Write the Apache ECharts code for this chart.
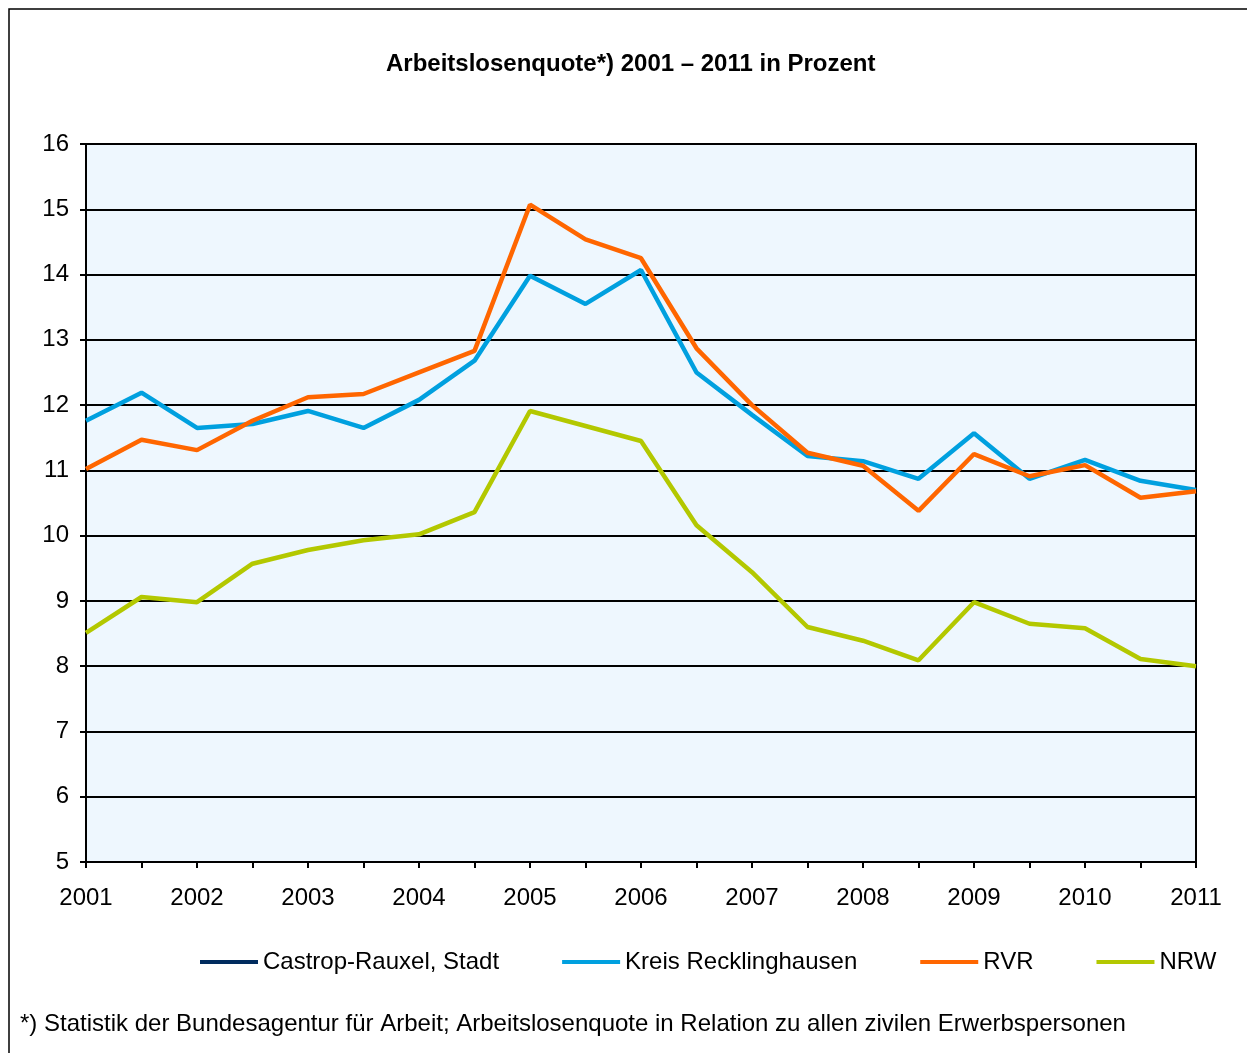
<!DOCTYPE html>
<html>
<head>
<meta charset="utf-8">
<script src="https://cdn.jsdelivr.net/npm/echarts@6/dist/echarts.min.js"></script>
<style>
html,body{margin:0;padding:0;background:#fff;}
#c{width:1247px;height:1053px;}
</style>
</head>
<body>
<div id="c"></div>
<script>
const periods = [2001,2001.5,2002,2002.5,2003,2003.5,2004,2004.5,2005,2005.5,2006,2006.5,2007,2007.5,2008,2008.5,2009,2009.5,2010,2010.5,2011];
const castropRauxel = [];
const kreisRecklinghausen = [11.76,12.19,11.65,11.71,11.91,11.65,12.08,12.68,13.98,13.55,14.07,12.50,11.85,11.22,11.14,10.87,11.57,10.87,11.16,10.84,10.70];
const rvr = [11.02,11.47,11.31,11.76,12.12,12.17,12.50,12.83,15.07,14.54,14.25,12.87,12.00,11.27,11.07,10.38,11.25,10.91,11.08,10.58,10.68];
const nrw = [8.51,9.06,8.98,9.57,9.78,9.93,10.02,10.36,11.91,11.68,11.45,10.16,9.44,8.60,8.39,8.09,8.98,8.65,8.58,8.11,8.00];
const seriesNames = ['Castrop-Rauxel, Stadt','Kreis Recklinghausen','RVR','NRW'];
const titleText = 'Arbeitslosenquote*) 2001 \u2013 2011 in Prozent';
const footnote = '*) Statistik der Bundesagentur für Arbeit; Arbeitslosenquote in Relation zu allen zivilen Erwerbspersonen';

const pair = arr => periods.map((p,i)=>[p, arr[i] === undefined ? null : arr[i]]).filter(d=>d[1]!==null);
const font = 'Liberation Sans, Arial, sans-serif';
const chart = echarts.init(document.getElementById('c'), null, {renderer:'canvas'});
chart.setOption({
  animation:false,
  backgroundColor:'#ffffff',
  textStyle:{fontFamily:font},
  title:{text:titleText,left:381,top:47,padding:5,textStyle:{fontFamily:font,fontSize:24,fontWeight:'bold',color:'#000'}},
  graphic:[
    {type:'rect',shape:{x:9,y:9,width:1260,height:1070},style:{fill:'none',stroke:'#000',lineWidth:1.5},z:-1},
    {type:'text',left:20,top:1012,style:{text:footnote,fontFamily:font,fontSize:24,fill:'#000'}}
  ],
  legend:{
    data:seriesNames,
    left:200, top:950, padding:0,
    icon:'rect', itemWidth:58, itemHeight:4, itemGap:63,
    textStyle:{fontFamily:font,fontSize:24,color:'#000'}
  },
  grid:{left:86,right:51,top:144,bottom:191,show:true,backgroundColor:'#EEF7FE',borderColor:'#000',borderWidth:2},
  xAxis:{
    type:'value',min:2001,max:2011,interval:0.5,
    axisLine:{show:true,lineStyle:{color:'#000',width:2}},
    axisTick:{show:true,length:6,lineStyle:{color:'#000',width:2}},
    axisLabel:{fontFamily:font,fontSize:24,color:'#000',margin:24,
      formatter:v=>Number.isInteger(v)?String(v):'',showMinLabel:true,showMaxLabel:true},
    splitLine:{show:false}
  },
  yAxis:{
    type:'value',min:5,max:16,interval:1,
    axisLine:{show:true,lineStyle:{color:'#000',width:2}},
    axisTick:{show:true,length:6,lineStyle:{color:'#000',width:2}},
    axisLabel:{fontFamily:font,fontSize:24,color:'#000',margin:17},
    splitLine:{show:true,lineStyle:{color:'#000',width:2}}
  },
  series:[
    {name:seriesNames[0],type:'line',data:pair(castropRauxel),symbol:'none',lineStyle:{width:4.5,color:'#002B5E'},itemStyle:{color:'#002B5E'}},
    {name:seriesNames[1],type:'line',data:pair(kreisRecklinghausen),symbol:'none',lineStyle:{width:4.5,color:'#00A0DF'},itemStyle:{color:'#00A0DF'}},
    {name:seriesNames[2],type:'line',data:pair(rvr),symbol:'none',lineStyle:{width:4.5,color:'#FF6600'},itemStyle:{color:'#FF6600'}},
    {name:seriesNames[3],type:'line',data:pair(nrw),symbol:'none',lineStyle:{width:4.5,color:'#B3C800'},itemStyle:{color:'#B3C800'}}
  ]
});
</script>
</body>
</html>
